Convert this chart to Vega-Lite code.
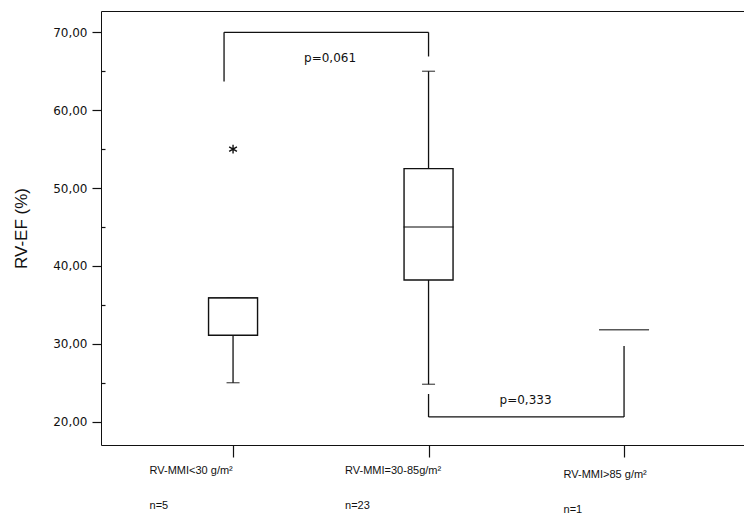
{
  "$schema": "https://vega.github.io/schema/vega-lite/v6.json",
  "width": 643,
  "height": 434,
  "autosize": "none",
  "padding": {"left": 101, "top": 11, "right": 0, "bottom": 71},
  "background": "white",
  "config": {
    "view": {"stroke": null},
    "axis": {"grid": false, "domainColor": "#111", "tickColor": "#111", "labelColor": "#111", "titleColor": "#111"}
  },
  "datasets": {
    "boxes": [
      {"group": "RV-MMI<30 g/m²\nn=5", "low": 25, "q1": 31.1, "median": 35.9, "q3": 35.9, "high": 35.9},
      {"group": "RV-MMI=30-85g/m²\nn=23", "low": 24.8, "q1": 38.2, "median": 45.0, "q3": 52.5, "high": 65.0},
      {"group": "RV-MMI>85 g/m²\nn=1", "median": 31.8}
    ],
    "outliers": [
      {"group": "RV-MMI<30 g/m²\nn=5", "value": 55}
    ],
    "legs": [
      {"group": "RV-MMI<30 g/m²\nn=5", "from": 63.7, "to": 70, "bracket": "top"},
      {"group": "RV-MMI=30-85g/m²\nn=23", "from": 66.9, "to": 70, "bracket": "top"},
      {"group": "RV-MMI=30-85g/m²\nn=23", "from": 20.6, "to": 23.55, "bracket": "bottom"},
      {"group": "RV-MMI>85 g/m²\nn=1", "from": 20.6, "to": 29.7, "bracket": "bottom"}
    ],
    "spans": [
      {"start": "RV-MMI<30 g/m²\nn=5", "end": "RV-MMI=30-85g/m²\nn=23", "y": 70, "label": "p=0,061", "ty": 66.7, "bracket": "top"},
      {"start": "RV-MMI=30-85g/m²\nn=23", "end": "RV-MMI>85 g/m²\nn=1", "y": 20.6, "label": "p=0,333", "ty": 22.8, "bracket": "bottom"}
    ]
  },
  "resolve": {"axis": {"x": "independent"}},
  "layer": [
    {
      "data": {"name": "boxes"},
      "mark": {"type": "rule", "color": "#111", "strokeWidth": 1.3},
      "encoding": {
        "x": {
          "field": "group", "type": "nominal",
          "scale": {"type": "point", "padding": 0.6445, "align": 0.524, "domain": ["RV-MMI<30 g/m²\nn=5", "RV-MMI=30-85g/m²\nn=23", "RV-MMI>85 g/m²\nn=1"]},
          "axis": {
            "orient": "bottom", "title": null, "tickSize": 12, "tickWidth": 1.2,
            "labelAlign": "left", "labelBaseline": "top",
            "labelOffset": {"condition": {"test": "indexof(datum.value, '>85') >= 0", "value": -61}, "value": -84},
            "labelPadding": {"condition": {"test": "indexof(datum.value, '>85') >= 0", "value": 11}, "value": 7},
            "labelExpr": "split(datum.label, '\\n')",
            "labelLineHeight": 35,
            "labelFont": "Liberation Sans", "labelFontSize": 11,
            "labelOverlap": false, "labelBound": false, "labelLimit": 0, "labelAngle": 0
          }
        },
        "y": {
          "field": "low", "type": "quantitative", "title": "RV-EF (%)",
          "scale": {"domain": [17, 72.74], "nice": false, "zero": false},
          "axis": {
            "orient": "left",
            "values": [20, 25, 30, 35, 40, 45, 50, 55, 60, 65, 70],
            "labelExpr": "datum.value % 10 === 0 ? replace(format(datum.value, '.2f'), '.', ',') : ''",
            "tickSize": {"condition": {"test": "datum.value % 10 === 0", "value": 9}, "value": -4},
            "tickWidth": 1.2,
            "labelPadding": 5,
            "labelFont": "DejaVu Sans", "labelFontSize": 12,
            "labelOverlap": false,
            "titleFont": "Liberation Sans", "titleFontSize": 17, "titleFontWeight": "normal",
            "titlePadding": 22
          }
        },
        "y2": {"field": "high"}
      }
    },
    {
      "data": {"name": "boxes"},
      "mark": {"type": "tick", "color": "#111", "size": 13, "thickness": 1.3},
      "encoding": {
        "x": {"field": "group", "type": "nominal", "axis": null},
        "y": {"field": "low", "type": "quantitative", "title": "RV-EF (%)"}
      }
    },
    {
      "data": {"name": "boxes"},
      "mark": {"type": "tick", "color": "#111", "size": 13, "thickness": 1.3},
      "encoding": {
        "x": {"field": "group", "type": "nominal", "axis": null},
        "y": {"field": "high", "type": "quantitative", "title": "RV-EF (%)"}
      }
    },
    {
      "data": {"name": "boxes"},
      "mark": {"type": "bar", "fill": "white", "stroke": "#111", "strokeWidth": 1.4, "size": 49},
      "encoding": {
        "x": {"field": "group", "type": "nominal", "axis": null},
        "y": {"field": "q1", "type": "quantitative", "title": "RV-EF (%)"},
        "y2": {"field": "q3"}
      }
    },
    {
      "data": {"name": "boxes"},
      "mark": {"type": "tick", "color": "#111", "size": 50, "thickness": 1.5},
      "encoding": {
        "x": {"field": "group", "type": "nominal", "axis": null},
        "y": {"field": "median", "type": "quantitative", "title": "RV-EF (%)"}
      }
    },
    {
      "data": {"name": "outliers"},
      "mark": {"type": "point", "shape": "M0,-1L0,1M-0.87,-0.5L0.87,0.5M-0.87,0.5L0.87,-0.5", "filled": false, "stroke": "#111", "strokeWidth": 1.4, "size": 80, "opacity": 1},
      "encoding": {
        "x": {"field": "group", "type": "nominal", "axis": null},
        "y": {"field": "value", "type": "quantitative", "title": "RV-EF (%)"}
      }
    },
    {
      "data": {"name": "legs"},
      "transform": [{"filter": "!(datum.bracket === 'top' && indexof(datum.group, '<30') >= 0)"}],
      "mark": {"type": "rule", "color": "#111", "strokeWidth": 1.3},
      "encoding": {
        "x": {"field": "group", "type": "nominal", "axis": null},
        "y": {"field": "from", "type": "quantitative", "title": "RV-EF (%)"},
        "y2": {"field": "to"}
      }
    },
    {
      "data": {"name": "legs"},
      "transform": [{"filter": "datum.bracket === 'top' && indexof(datum.group, '<30') >= 0"}],
      "mark": {"type": "rule", "color": "#111", "strokeWidth": 1.3, "xOffset": -9},
      "encoding": {
        "x": {"field": "group", "type": "nominal", "axis": null},
        "y": {"field": "from", "type": "quantitative", "title": "RV-EF (%)"},
        "y2": {"field": "to"}
      }
    },
    {
      "data": {"name": "spans"},
      "transform": [{"filter": "datum.bracket === 'bottom'"}],
      "mark": {"type": "rule", "color": "#111", "strokeWidth": 1.3},
      "encoding": {
        "x": {"field": "start", "type": "nominal", "axis": null},
        "x2": {"field": "end"},
        "y": {"field": "y", "type": "quantitative", "title": "RV-EF (%)"}
      }
    },
    {
      "data": {"name": "spans"},
      "transform": [{"filter": "datum.bracket === 'top'"}],
      "mark": {"type": "rule", "color": "#111", "strokeWidth": 1.3, "xOffset": -9},
      "encoding": {
        "x": {"field": "start", "type": "nominal", "axis": {"orient": "top", "title": null, "labels": false, "ticks": false, "domain": true, "domainColor": "#111"}},
        "x2": {"field": "end"},
        "y": {"field": "y", "type": "quantitative", "title": "RV-EF (%)"}
      }
    },
    {
      "data": {"name": "spans"},
      "mark": {"type": "text", "font": "DejaVu Sans", "fontSize": 12, "color": "#111", "align": "center", "baseline": "middle", "dx": 97},
      "encoding": {
        "x": {"field": "start", "type": "nominal", "axis": null},
        "y": {"field": "ty", "type": "quantitative", "title": "RV-EF (%)"},
        "text": {"field": "label"}
      }
    }
  ]
}
